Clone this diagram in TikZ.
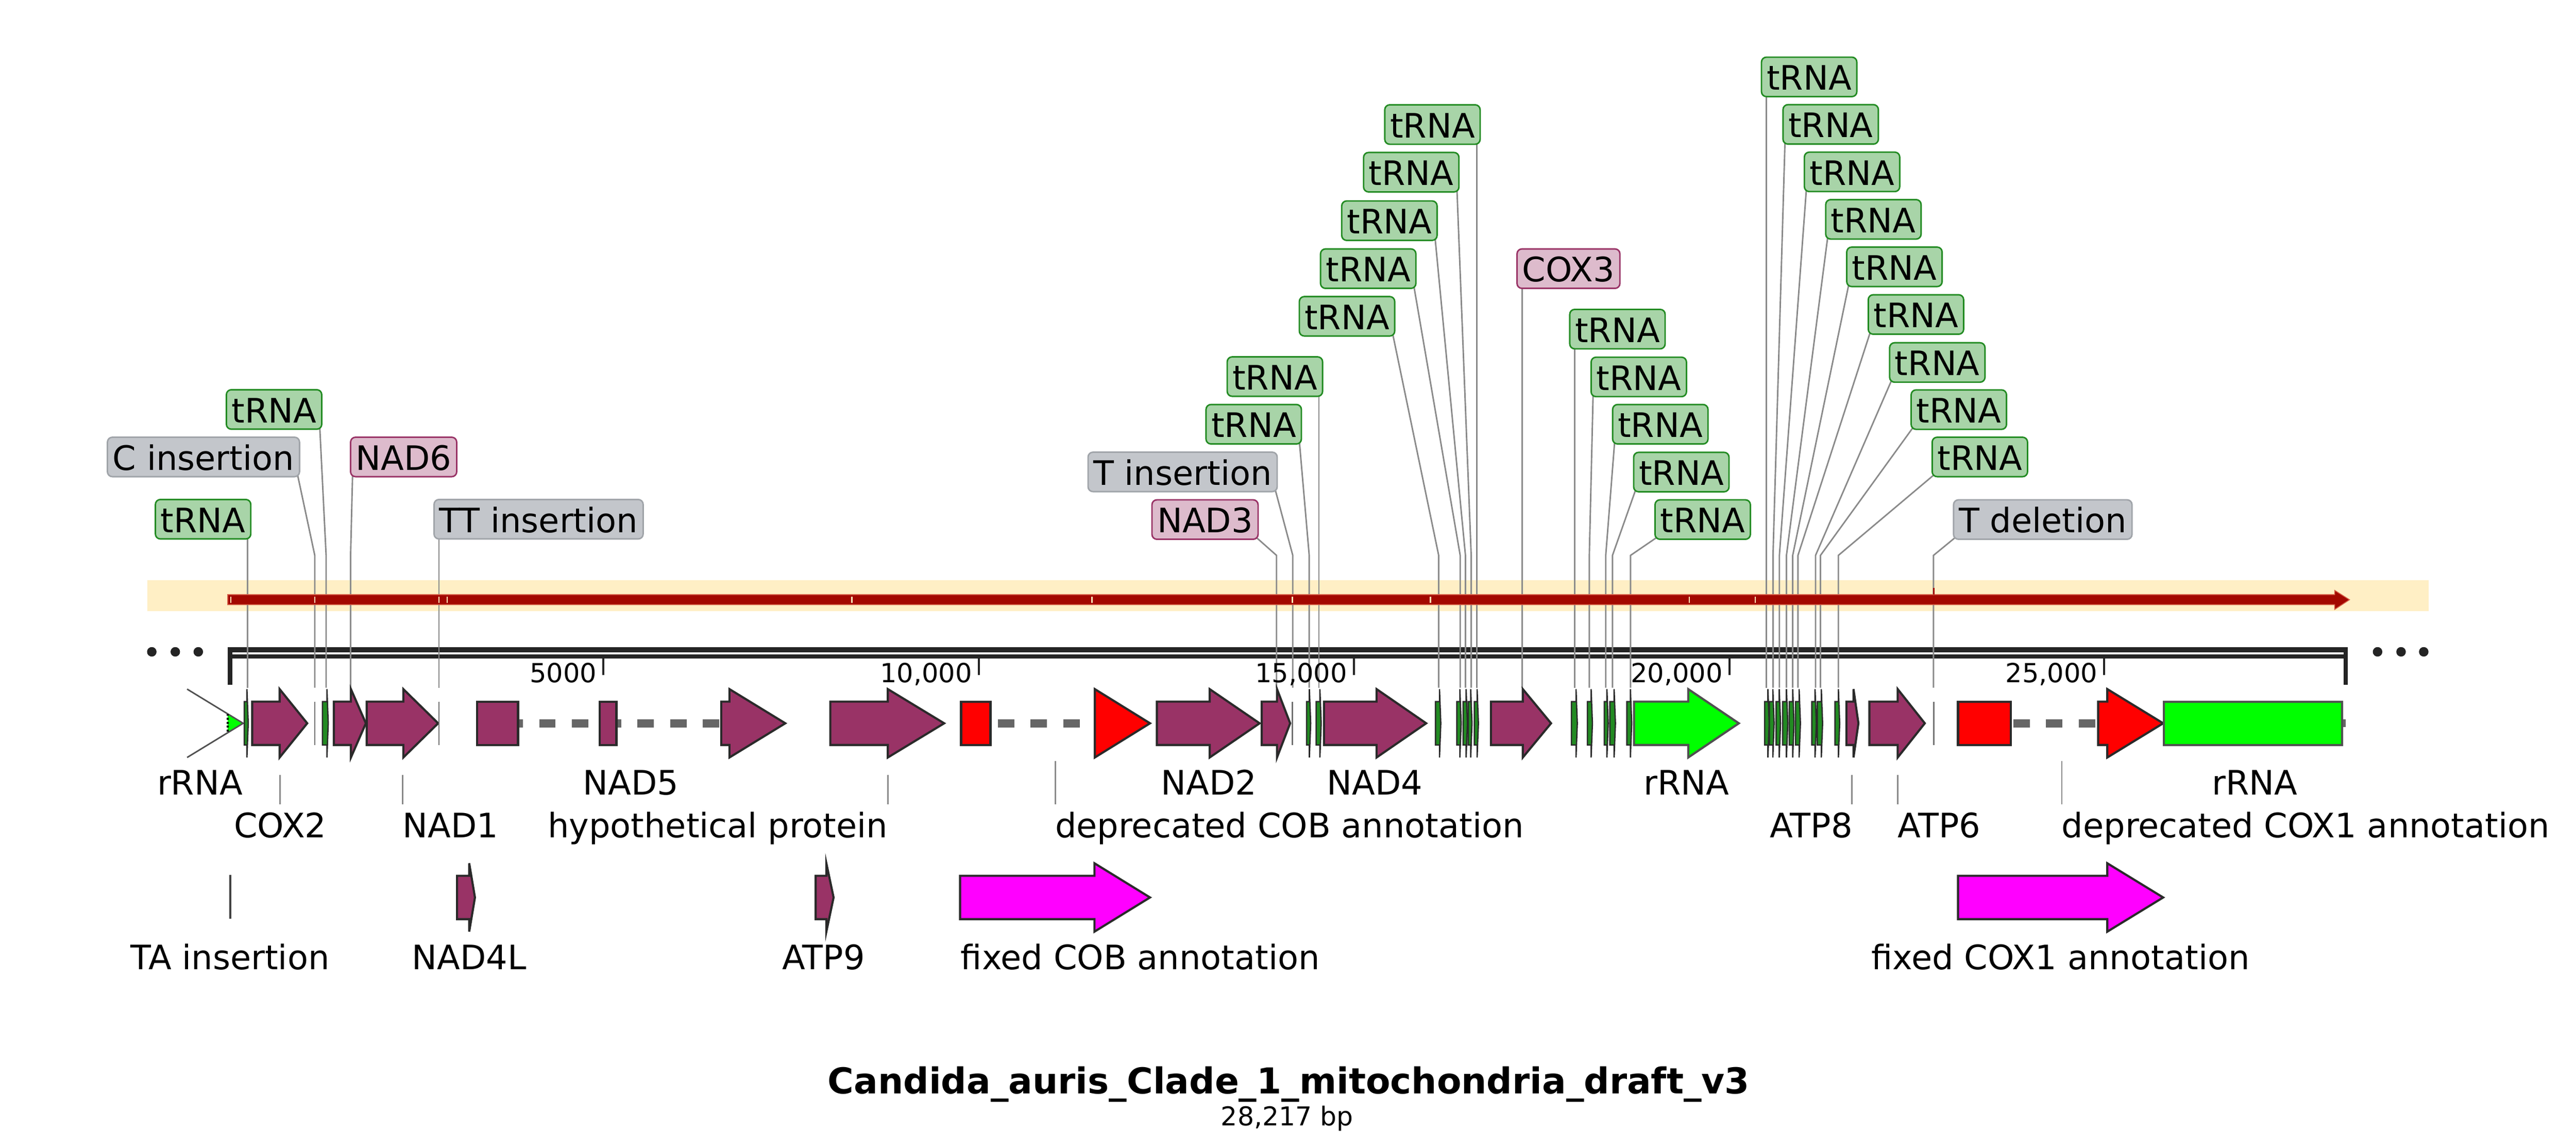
\documentclass[tikz,border=0pt]{standalone}
\usepackage{fontspec}
\setmainfont{DejaVu Sans}
\usetikzlibrary{calc}
\definecolor{cdsc}{RGB}{153,51,102}
\definecolor{trnac}{RGB}{34,139,34}
\definecolor{rrnac}{RGB}{0,255,0}
\definecolor{redc}{RGB}{255,0,0}
\definecolor{magc}{RGB}{255,0,255}
\definecolor{outc}{RGB}{42,42,42}
\definecolor{rroutc}{RGB}{80,80,80}
\definecolor{dashc}{RGB}{102,102,102}
\definecolor{bandc}{RGB}{255,239,197}
\definecolor{redarrc}{RGB}{163,8,0}
\definecolor{redarrb}{RGB}{214,96,72}
\definecolor{tickc}{RGB}{255,233,184}
\definecolor{rulc}{RGB}{36,36,36}
\definecolor{leadc}{RGB}{138,138,138}
\definecolor{tfill}{RGB}{168,212,168}
\definecolor{cfill}{RGB}{221,187,204}
\definecolor{gfill}{RGB}{195,198,203}
\definecolor{gbord}{RGB}{160,164,169}
\newcommand{\labfont}{\fontsize{10.25pt}{12pt}\selectfont}
\newcommand{\rulfont}{\fontsize{8pt}{9.6pt}\selectfont}
\pgfdeclarelayer{bgl}
\pgfdeclarelayer{bandl}
\pgfdeclarelayer{leadl}
\pgfsetlayers{bgl,bandl,leadl,main}
\tikzset{
  lbl/.style={rounded corners=1.5pt, line width=0.45pt, inner xsep=1.6pt, inner ysep=0pt,
    outer sep=0pt, minimum height=12pt, text height=8pt, text depth=0pt, font=\labfont,
    anchor=north west},
  tl/.style={fill=tfill, draw=trnac},
  cl/.style={fill=cfill, draw=cdsc},
  gl/.style={fill=gfill, draw=gbord},
  leader/.style={draw=leadc, line width=0.45pt},
  cdsst/.style={fill=cdsc, draw=outc, line width=0.65pt},
  trnast/.style={fill=trnac, draw=outc, line width=0.4pt},
  rrnast/.style={fill=rrnac, draw=rroutc, line width=0.65pt},
  redst/.style={fill=redc, draw=outc, line width=0.65pt},
  magst/.style={fill=magc, draw=outc, line width=0.65pt},
  insst/.style={draw=black!55, line width=0.45pt},
  dashst/.style={draw=dashc, line width=2.45pt, dash pattern=on 5pt off 4.97pt},
  glab/.style={font=\labfont, inner sep=0pt, outer sep=0pt},
}
\newcommand{\garrow}[5]{%
  \draw[#5] (#1,#4-13.2) -- (#2,#4-13.2) -- (#2,#4-20.8) -- (#3,#4) -- (#2,#4+20.8) -- (#2,#4+13.2) -- (#1,#4+13.2) -- cycle;}
\newcommand{\trna}[2]{\garrow{#1}{#1+#2-0.8}{#1+#2}{440.2}{trnast}}
\newcommand{\inslin}[1]{\draw[insst] (#1,427) -- (#1,453.4);}
\newcommand{\toplab}[7]{%
  \node[lbl,#3] (#1) at (#4,#5) {#2};
  \coordinate (#1k) at (#6,338);
  \coordinate (#1f) at (#6,418.5);
  \begin{pgfonlayer}{leadl}
  \ifx#7V\draw[leader] (#1.south -| #1k) -- (#1f);
  \else\ifx#7E\draw[leader] ($(#1.south east)+(-1.2,-1.2)$) -- (#1k) -- (#1f);
  \else\draw[leader] ($(#1.south west)+(1.2,-1.2)$) -- (#1k) -- (#1f);
  \fi\fi
  \end{pgfonlayer}}
\begin{document}
\begin{tikzpicture}[x=0.5pt,y=-0.5pt]
\begin{pgfonlayer}{bgl}
\fill[white] (0,0) rectangle (1568,698.07);
\end{pgfonlayer}
\path[use as bounding box] (0,0) rectangle (1568,698.07);

% ---------- band, red arrow, ruler ----------
\begin{pgfonlayer}{bandl}
\fill[bandc] (89.7,353.1) rectangle (1478.3,372.0);
\fill[rulc] (138.6,394.0) rectangle (1429.2,396.9);
\fill[rulc] (138.6,398.2) rectangle (1429.2,400.9);
\fill[rulc] (138.6,394.0) rectangle (141.3,416.8);
\fill[rulc] (1426.6,394.0) rectangle (1429.2,416.9);
\end{pgfonlayer}
\draw[fill=redarrc, draw=redarrb, line width=0.25pt] (138.6,361.9) -- (1421.1,361.9) -- (1421.1,359.3) -- (1430.1,365.0) -- (1421.1,370.9) -- (1421.1,368.0) -- (138.6,368.0) -- cycle;
\foreach \x in {140.5,191.6,267.2,272.2,518.6,664.8,786.6,870.6,1028.3,1068.4}
  \draw[tickc, line width=0.45pt] (\x,363.3) -- (\x,366.8);
\draw[redarrc, line width=0.5pt] (1177.2,357.8) -- (1177.2,362.0);

\foreach \x/\l [count=\i] in {367.3/5000, 595.8/{10,000}, 824.1/{15,000}, 1052.7/{20,000}, 1280.8/{25,000}}{
  \fill[rulc] (\x-0.6,400.9) rectangle (\x+0.6,410.7);
  \node[font=\rulfont, inner sep=0pt, anchor=base east] (rl\i) at (\x-3.7,415.5) {\l};
}
\foreach \x [count=\i] in {92.4,106.7,120.7,1447.2,1461.5,1475.3}
  \fill[rulc] (\x,396.7) circle [radius=1.45pt];

% ---------- top labels with leaders ----------
\toplab{t1}{tRNA}{tl}{94.6}{304.0}{150.7}{V}
\toplab{cins}{C insertion}{gl}{65.4}{266.1}{191.6}{E}
\toplab{t2}{tRNA}{tl}{137.8}{237.2}{198.5}{E}
\toplab{nad6}{NAD6}{cl}{213.4}{266.1}{213.4}{W}
\toplab{ttins}{TT insertion}{gl}{264.2}{304.0}{267.2}{V}
\toplab{nad3}{NAD3}{cl}{701.2}{304.2}{777.0}{E}
\toplab{tins}{T insertion}{gl}{662.3}{275.2}{786.9}{E}
\toplab{t3}{tRNA}{tl}{734.1}{246.2}{796.9}{E}
\toplab{t4}{tRNA}{tl}{747.0}{217.2}{802.8}{V}
\toplab{t5}{tRNA}{tl}{790.9}{180.5}{875.7}{E}
\toplab{t6}{tRNA}{tl}{803.8}{151.5}{888.8}{E}
\toplab{t7}{tRNA}{tl}{816.7}{122.3}{892.0}{E}
\toplab{t8}{tRNA}{tl}{830.0}{92.8}{895.5}{E}
\toplab{t9}{tRNA}{tl}{842.9}{63.8}{898.9}{V}
\toplab{cox3}{COX3}{cl}{923.4}{151.5}{926.5}{V}
\toplab{t10}{tRNA}{tl}{955.5}{188.3}{958.5}{V}
\toplab{t11}{tRNA}{tl}{968.5}{217.4}{967.4}{W}
\toplab{t12}{tRNA}{tl}{981.6}{246.2}{977.4}{W}
\toplab{t13}{tRNA}{tl}{994.4}{275.3}{981.5}{W}
\toplab{t14}{tRNA}{tl}{1007.4}{304.2}{992.5}{W}
\toplab{t15}{tRNA}{tl}{1072.2}{34.8}{1075.2}{V}
\toplab{t16}{tRNA}{tl}{1085.3}{63.7}{1079.2}{W}
\toplab{t17}{tRNA}{tl}{1098.3}{92.6}{1083.1}{W}
\toplab{t18}{tRNA}{tl}{1111.3}{121.5}{1087.4}{W}
\toplab{t19}{tRNA}{tl}{1124.1}{150.4}{1091.2}{W}
\toplab{t20}{tRNA}{tl}{1137.2}{179.4}{1094.4}{W}
\toplab{t21}{tRNA}{tl}{1150.2}{208.6}{1105.1}{W}
\toplab{t22}{tRNA}{tl}{1163.3}{237.3}{1108.1}{W}
\toplab{t23}{tRNA}{tl}{1176.1}{266.1}{1119.0}{W}
\toplab{tdel}{T deletion}{gl}{1189.1}{304.2}{1176.9}{W}

% ---------- main feature track ----------
% wrapped rRNA head at the start
\fill[rrnac] (138.6,434.5) -- (148.0,440.2) -- (138.6,445.9) -- cycle;
\draw[rroutc, line width=0.45pt] (113.9,419.4) -- (148.0,440.2) -- (113.9,461.0);
\draw[black, line width=0.5pt, dash pattern=on 0.6pt off 0.6pt] (138.6,434.5) -- (138.6,445.9);
\trna{148.7}{2.4}
\garrow{153.5}{170.2}{187.0}{440.2}{cdsst}
\inslin{191.6}
\trna{196.3}{3.5}
\garrow{203.2}{213.6}{222.7}{440.2}{cdsst}
\garrow{223.2}{245.5}{266.7}{440.2}{cdsst}
\inslin{267.2}
% NAD5
\draw[dashst, dash phase=3.52pt] (315.3,440.2) -- (365.1,440.2);
\draw[dashst, dash phase=3.56pt] (375.2,440.2) -- (439.0,440.2);
\draw[cdsst] (290.3,427) rectangle (315.3,453.4);
\draw[cdsst] (365.1,427) rectangle (375.2,453.4);
\garrow{439.0}{444.0}{478.0}{440.2}{cdsst}
% hypothetical protein
\garrow{505.4}{540.4}{574.7}{440.2}{cdsst}
% deprecated COB
\draw[dashst, dash phase=7.74pt] (602.9,440.2) -- (666.4,440.2);
\draw[redst] (585.0,427) rectangle (602.9,453.4);
\draw[redst] (666.4,419.4) -- (700.0,440.2) -- (666.4,461.0) -- cycle;
\garrow{704.2}{736.3}{766.7}{440.2}{cdsst}
\garrow{768.0}{777.3}{785.3}{440.2}{cdsst}
\inslin{786.6}
\trna{795.3}{2.5}
\trna{801.1}{3.1}
\garrow{805.9}{837.9}{868.1}{440.2}{cdsst}
\trna{873.8}{3.2}
\trna{886.7}{2.7}
\trna{890.6}{2.6}
\trna{893.6}{2.4}
\trna{897.4}{2.5}
\garrow{907.5}{926.9}{944.1}{440.2}{cdsst}
\trna{956.5}{3.6}
\trna{966.2}{3.1}
\trna{976.5}{2.4}
\trna{979.9}{3.4}
\trna{990.2}{3.0}
\garrow{994.6}{1027.6}{1058.4}{440.2}{rrnast}
\trna{1074.1}{2.8}
\trna{1077.0}{2.9}
\trna{1081.1}{2.7}
\trna{1085.1}{3.1}
\trna{1089.1}{2.9}
\trna{1092.9}{3.0}
\trna{1102.8}{2.8}
\trna{1106.2}{3.2}
\trna{1116.9}{2.9}
\garrow{1123.9}{1128.2}{1131.2}{440.2}{cdsst}
\garrow{1137.9}{1155.1}{1171.6}{440.2}{cdsst}
\inslin{1177.2}
% deprecated COX1
\draw[dashst, dash phase=9.22pt] (1224.0,440.2) -- (1277.1,440.2);
\draw[redst] (1191.8,427) rectangle (1224.0,453.4);
\garrow{1277.1}{1282.7}{1316.7}{440.2}{redst}
\draw[rrnast] (1317.2,427) rectangle (1425.6,453.4);
\fill[dashc] (1426.2,437.8) rectangle (1427.8,442.6);

% ---------- feature labels, rows 1 and 2 ----------
\node[glab, anchor=base] (l1) at (121.7,483.8) {rRNA};
\node[glab, anchor=base] (l2) at (384.0,483.8) {NAD5};
\node[glab, anchor=base] (l3) at (735.8,483.8) {NAD2};
\node[glab, anchor=base] (l4) at (836.8,483.8) {NAD4};
\node[glab, anchor=base] (l5) at (1026.5,483.8) {rRNA};
\node[glab, anchor=base] (l6) at (1372.5,483.8) {rRNA};

\foreach \x in {170.5,245.2,540.4,1127.2,1155.1}
  \draw[leader] (\x,471.5) -- (\x,489.4);
\foreach \x in {642.3,1255.0}
  \draw[leader] (\x,463.2) -- (\x,489.4);
\node[glab, anchor=base] (m1) at (170.5,509.7) {COX2};
\node[glab, anchor=base west] (m2) at (245.2,509.7) {NAD1};
\node[glab, anchor=base east] (m3) at (540.4,509.7) {hypothetical protein};
\node[glab, anchor=base west] (m4) at (642.3,509.7) {deprecated COB annotation};
\node[glab, anchor=base east] (m5) at (1127.6,509.7) {ATP8};
\node[glab, anchor=base west] (m6) at (1155.1,509.7) {ATP6};
\node[glab, anchor=base west] (m7) at (1255.0,509.7) {deprecated COX1 annotation};

% ---------- row 3 ----------
\draw[black!75, line width=0.6pt] (140.2,532.4) -- (140.2,559.2);
\garrow{278.2}{285.6}{289.1}{546.2}{cdsst}
\garrow{496.5}{503.0}{507.4}{546.2}{cdsst}
\garrow{584.4}{666.2}{700.0}{546.2}{magst}
\garrow{1191.8}{1282.7}{1316.7}{546.2}{magst}
\node[glab, anchor=base] (n1) at (140.0,590.0) {TA insertion};
\node[glab, anchor=base] (n2) at (285.6,590.0) {NAD4L};
\node[glab, anchor=base] (n3) at (501.3,590.0) {ATP9};
\node[glab, anchor=base west] (n4) at (584.8,590.0) {fixed COB annotation};
\node[glab, anchor=base] (n5) at (1254.3,590.0) {fixed COX1 annotation};

% ---------- title ----------
\node[font=\bfseries\fontsize{10.85pt}{13pt}\selectfont, inner sep=0pt, anchor=base] (title) at (784.4,665.7) {Candida\_auris\_Clade\_1\_mitochondria\_draft\_v3};
\node[font=\fontsize{7.9pt}{9.5pt}\selectfont, inner sep=0pt, anchor=base] (bp) at (783.4,685.2) {28,217 bp};
\end{tikzpicture}
\end{document}
